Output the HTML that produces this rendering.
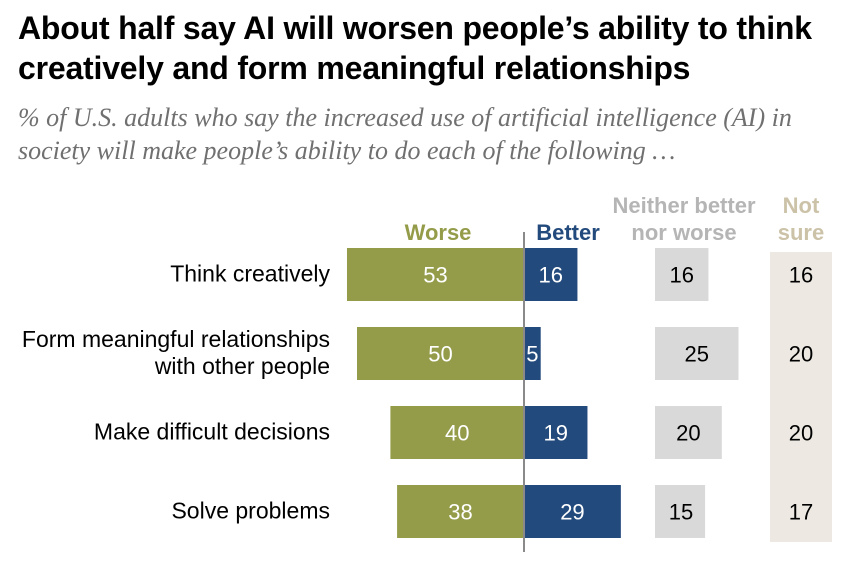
<!DOCTYPE html>
<html><head><meta charset="utf-8"><style>
body{margin:0;background:#fff;width:846px;height:566px;overflow:hidden;position:relative;font-family:"Liberation Sans",sans-serif}
.t{position:absolute;left:18px;top:8px;font-weight:bold;font-size:32px;line-height:40px;color:#000;letter-spacing:-0.2px;white-space:nowrap}
.s{position:absolute;left:18px;top:101px;font-family:"Liberation Serif",serif;font-style:italic;font-size:26px;line-height:33px;color:#707070;white-space:nowrap}
</style></head><body>
<div class="t">About half say AI will worsen people’s ability to think<br>creatively and form meaningful relationships</div>
<div class="s">% of U.S. adults who say the increased use of artificial intelligence (AI) in<br>society will make people’s ability to do each of the following …</div>
<svg id="c" width="846" height="566" style="position:absolute;left:0;top:0"></svg>
<script>
const categories=[["Think creatively"],["Form meaningful relationships","with other people"],["Make difficult decisions"],["Solve problems"]];
const worse=[53,50,40,38];
const better=[16,5,19,29];
const neither=[16,25,20,15];
const notSure=[16,20,20,17];
const svg=document.getElementById('c');const NS='http://www.w3.org/2000/svg';
const cx=524,k=3.34,rowY=r=>248+r*79,bh=53,nx=655;
function el(t,a,txt){const e=document.createElementNS(NS,t);for(const q in a)e.setAttribute(q,a[q]);if(txt!==undefined)e.textContent=txt;svg.appendChild(e);return e;}
function tx(x,y,s,c,anchor,w,sz){return el('text',{x:x,y:y,fill:c,'font-size':sz||22,'font-weight':w||'normal','text-anchor':anchor||'middle','font-family':'Liberation Sans, sans-serif'},s);}
let e=el('rect',{x:770,y:252,width:62,height:290,fill:'#ede9e2'});

[['Worse',438,240,'#949c4a'],['Better',568,240,'#234a7c']].forEach(h=>{e=tx(h[1],h[2],h[0],h[3],'middle','bold',22);});
e=tx(684,213,'Neither better','#b5b5b5','middle','bold',22);
e=tx(684,240,'nor worse','#b5b5b5','middle','bold',22);
e=tx(801,213,'Not','#cbc2a8','middle','bold',22);
e=tx(801,240,'sure','#cbc2a8','middle','bold',22);
categories.forEach((c,i)=>{
 const y=rowY(i),m=y+bh/2;
 c.forEach((l,j)=>{e=tx(330,m+7+(j-(c.length-1)/2)*27,l,'#000','end','normal',23);});
 e=el('rect',{x:cx-worse[i]*k,y:y,width:worse[i]*k,height:bh,fill:'#949c4a'});
 e=tx(cx-worse[i]*k/2,m+8,worse[i],'#fff');
 e=el('rect',{x:cx,y:y,width:better[i]*k,height:bh,fill:'#234a7c'});
 e=tx(cx+Math.max(better[i]*k/2,8),m+8,better[i],'#fff');
 e=el('rect',{x:nx,y:y,width:neither[i]*k,height:bh,fill:'#d9d9d9'});
 e=tx(nx+Math.max(neither[i]*k/2,26),m+8,neither[i],'#000');
 e=tx(801,m+8,notSure[i],'#000');
});
e=el('line',{x1:cx,y1:232,x2:cx,y2:552,stroke:'#8a8a8a','stroke-width':2});
</script>
</body></html>
